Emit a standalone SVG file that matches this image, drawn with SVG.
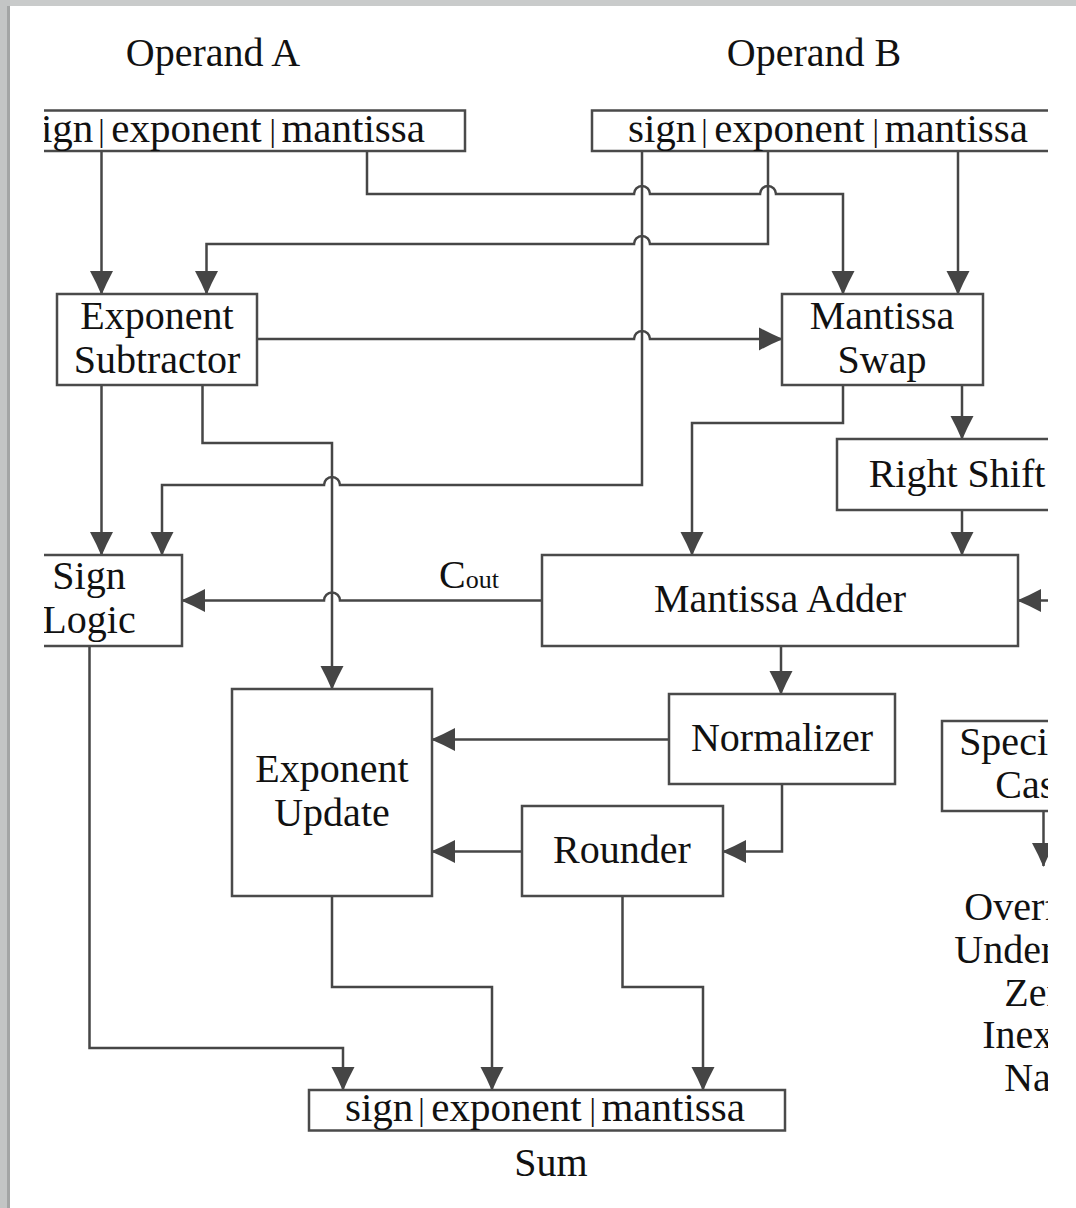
<svg xmlns="http://www.w3.org/2000/svg" width="1076" height="1208" viewBox="0 0 1076 1208">
<defs>
<style>
.box{fill:#fff;stroke:#4a4a4a;stroke-width:2.5}
.t{font-family:"Liberation Serif","Times New Roman",serif;font-size:40px;fill:#111;text-anchor:middle}
.reg{font-family:"Liberation Serif","Times New Roman",serif;font-size:41px;fill:#111}
.bar{font-size:32px}
.w{fill:none;stroke:#464646;stroke-width:2.5}
.a{marker-end:url(#arr)}
</style>
<marker id="arr" markerUnits="userSpaceOnUse" markerWidth="24" markerHeight="24" viewBox="0 0 24 24" refX="23" refY="12" orient="auto">
<path d="M0,0.5 Q12,7 24,12 Q12,17 0,23.5 Z" fill="#454545"/>
</marker>
<clipPath id="clip"><rect x="44" y="0" width="1004" height="1208"/></clipPath>
</defs>
<rect width="1076" height="1208" fill="#fff"/>
<g id="diagram" clip-path="url(#clip)">
<g id="connectors">
<path class="w a" d="M101.5,151 V294"/>
<path class="w a" d="M367,151 V194 H634 A8,8 0 0 1 650,194 H760 A8,8 0 0 1 776,194 H843 V294"/>
<path class="w a" d="M768,151 V244 H650 A8,8 0 0 0 634,244 H206.5 V294"/>
<path class="w a" d="M642,151 V485 H340 A8,8 0 0 0 324,485 H162 V555"/>
<path class="w a" d="M958,151 V294"/>
<path class="w a" d="M257,339 H634 A8,8 0 0 1 650,339 H782"/>
<path class="w a" d="M101.5,385 V555"/>
<path class="w a" d="M202.5,385 V443 H332 V689"/>
<path class="w a" d="M843,385 V423 H692 V555"/>
<path class="w a" d="M962,385 V439"/>
<path class="w a" d="M962,510 V555"/>
<path class="w a" d="M542,600.5 H340 A8,8 0 0 0 324,600.5 H182"/>
<path class="w a" d="M1070,600.5 H1018"/>
<path class="w a" d="M781,646 V694"/>
<path class="w a" d="M669,739.5 H432"/>
<path class="w a" d="M782,784 V851.5 H723"/>
<path class="w a" d="M522,851.5 H432"/>
<path class="w a" d="M89.5,646 V1048 H343 V1090"/>
<path class="w a" d="M332,896 V987 H492 V1090"/>
<path class="w a" d="M622.5,896 V987 H703 V1090"/>
<path class="w a" d="M1043.5,811 V866"/>
<text x="439" y="588" style="font-family:'Liberation Serif','Times New Roman',serif;font-size:40px;fill:#111">C<tspan style="font-size:26px">out</tspan></text>
</g>
<g id="opA"><text class="t" x="213" y="66">Operand A</text></g>
<g id="opB"><text class="t" x="814" y="66">Operand B</text></g>
<g id="regA"><rect class="box" x="-9" y="110.5" width="474" height="40.5"/>
<text class="reg" x="25" y="142">sign<tspan class="bar" dx="5" dy="-1">|</tspan><tspan dx="6.5" dy="1">exponent</tspan><tspan class="bar" dx="8" dy="-1">|</tspan><tspan dx="5.5" dy="1">mantissa</tspan></text></g>
<g id="regB"><rect class="box" x="592" y="110.5" width="478" height="40.5"/>
<text class="reg" x="628" y="142">sign<tspan class="bar" dx="5" dy="-1">|</tspan><tspan dx="6.5" dy="1">exponent</tspan><tspan class="bar" dx="8" dy="-1">|</tspan><tspan dx="5.5" dy="1">mantissa</tspan></text></g>
<g id="expSub"><rect class="box" x="57" y="294" width="200" height="91"/>
<text class="t" x="157" y="329">Exponent</text><text class="t" x="157" y="373">Subtractor</text></g>
<g id="mantSwap"><rect class="box" x="782" y="294" width="201" height="91"/>
<text class="t" x="882" y="329">Mantissa</text><text class="t" x="882" y="373">Swap</text></g>
<g id="rightShift"><rect class="box" x="837" y="439" width="238" height="71"/>
<text class="t" x="957" y="487">Right Shift</text></g>
<g id="signLogic"><rect class="box" x="-4" y="555" width="186" height="91"/>
<text class="t" x="89" y="589">Sign</text><text class="t" x="89" y="633">Logic</text></g>
<g id="mantAdder"><rect class="box" x="542" y="555" width="476" height="91"/>
<text class="t" x="780" y="612">Mantissa Adder</text></g>
<g id="expUpdate"><rect class="box" x="232" y="689" width="200" height="207"/>
<text class="t" x="332" y="782">Exponent</text><text class="t" x="332" y="826">Update</text></g>
<g id="normalizer"><rect class="box" x="669" y="694" width="226" height="90"/>
<text class="t" x="782" y="751">Normalizer</text></g>
<g id="rounder"><rect class="box" x="522" y="806" width="201" height="90"/>
<text class="t" x="622" y="863">Rounder</text></g>
<g id="special"><rect class="box" x="942" y="721" width="200" height="90"/>
<text class="t" x="1018" y="755">Special</text><text class="t" x="1042" y="798">Cases</text></g>
<g id="flags">
<text class="t" x="1041" y="920">Overflow</text>
<text class="t" x="1041" y="963">Underflow</text>
<text class="t" x="1042" y="1006">Zero</text>
<text class="t" x="1041" y="1048">Inexact</text>
<text class="t" x="1042" y="1091">NaN</text>
</g>
<g id="sumReg"><rect class="box" x="309" y="1090" width="476" height="40.5"/>
<text class="reg" x="345" y="1121">sign<tspan class="bar" dx="5" dy="-1">|</tspan><tspan dx="6.5" dy="1">exponent</tspan><tspan class="bar" dx="8" dy="-1">|</tspan><tspan dx="5.5" dy="1">mantissa</tspan></text></g>
<g id="sum"><text class="t" x="551" y="1176">Sum</text></g>
</g>
<rect x="0" y="0" width="1076" height="6" fill="#c9cbcb"/>
<rect x="0" y="0" width="10" height="1208" fill="#c3c5c5"/>
<rect x="7" y="6" width="3" height="1202" fill="#a3a5a5"/>
</svg>
